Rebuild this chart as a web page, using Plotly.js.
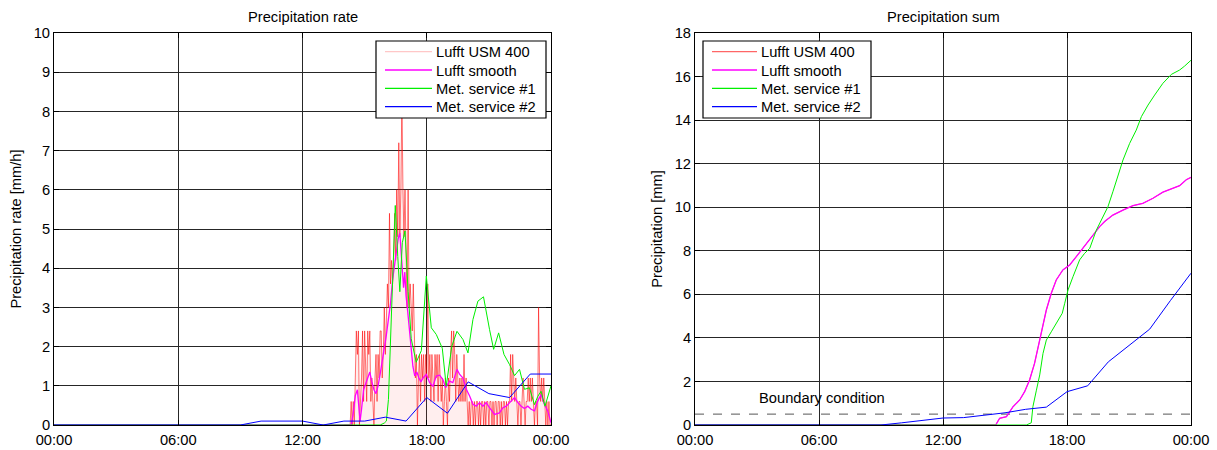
<!DOCTYPE html>
<html>
<head>
<meta charset="utf-8">
<script src="https://cdn.plot.ly/plotly-3.0.1.min.js"></script>
<style>html,body{margin:0;padding:0;background:#fff;}#chart{width:1217px;height:450px;}</style>
</head>
<body>
<div id="chart"></div>
<script>
// ---------- DATA (time in hours of day) ----------
const tickHours = [0, 6, 12, 18, 24];
const tickLabels = ['00:00', '06:00', '12:00', '18:00', '00:00'];
const seriesNames = ['Lufft USM 400', 'Lufft smooth', 'Met. service #1', 'Met. service #2'];

// Lufft USM 400 raw rate [mm/h], regularly sampled from luftStart every luftStep hours
const luftStart = 14.0;
const luftStep = 0.05;
const luftRate = [
  0, 0, 0, 0, 0, 0, 0, 0.6, 0, 0.6, 0, 1.2, 2.4, 1.8, 2.4, 0, 0.6, 1.2, 2.4, 0.6,
  2.4, 1.2, 0.6, 2.4, 1.8, 2.4, 0.6, 1.2, 0.6, 0, 1.2, 1.8, 0.6, 1.8, 1.2, 2.4, 2.4, 1.2, 1.8, 3.0,
  1.8, 3.0, 3.6, 3.0, 5.4, 3.6, 4.2, 3.6, 4.2, 5.4, 4.2, 6.0, 4.8, 7.2, 4.8, 6.0, 8.4, 6.0, 4.8, 6.0,
  4.2, 3.0, 6.0, 3.0, 3.6, 3.0, 2.4, 3.6, 1.8, 1.2, 1.8, 0, 1.2, 1.8, 0.6, 1.8, 1.2, 1.8, 0.6, 1.8,
  1.2, 3.6, 1.2, 1.8, 0.6, 1.8, 1.2, 0.6, 1.8, 1.2, 1.8, 0.6, 1.8, 1.2, 0.6, 1.2, 0, 0.6, 1.2, 0.6,
  0, 1.2, 0.6, 1.8, 2.4, 1.2, 2.4, 1.8, 0.6, 1.8, 1.2, 0.6, 1.2, 0.6, 1.2, 0.6, 1.8, 0.6, 1.2, 0.6,
  0, 0.6, 0, 0.6, 0.6, 0, 0.6, 0, 0.6, 0.6, 0, 0.6, 0, 0.6, 0.6, 0, 0.6, 0, 0.6, 0.6,
  0, 0.6, 0.6, 0, 0.6, 0, 0.6, 0.6, 0, 0.6, 0.6, 0, 0.6, 0, 0.6, 0.6, 0, 0.6, 0, 0.6,
  0.6, 1.8, 0.6, 1.8, 1.2, 0.6, 1.2, 0.6, 0, 0.6, 0.6, 0, 0.6, 1.2, 0.6, 0, 0.6, 0.6, 1.2, 0.6,
  1.2, 0.6, 1.2, 0.6, 0, 0.6, 0.6, 0, 3.0, 1.2, 0.6, 1.2, 0.6, 1.2, 0.6, 0, 0.6, 0, 0.6, 0,
  0
];

// Lufft smoothed rate [mm/h]
const smoothHours = [0, 14.35, 14.45, 14.55, 14.65, 14.72, 14.78, 14.85, 14.95, 15.05, 15.15,
  15.25, 15.35, 15.45, 15.55, 15.65, 15.75, 15.85, 15.95, 16.05, 16.15,
  16.25, 16.35, 16.45, 16.55, 16.62, 16.70, 16.76, 16.82, 16.88, 16.94,
  17.0, 17.08, 17.16, 17.25, 17.33, 17.42, 17.52, 17.62, 17.72, 17.82,
  17.98, 18.14, 18.3, 18.46, 18.62, 18.78, 18.91, 19.1, 19.26, 19.46,
  19.59, 19.75, 19.91, 20.07, 20.23, 20.39, 20.55, 20.71, 20.87, 21.03,
  21.27, 21.51, 21.68, 21.84, 22.08, 22.24, 22.4, 22.56, 22.72, 22.88,
  23.04, 23.2, 23.36, 23.52, 23.68, 23.84, 24.0];
const smoothRate = [0, 0, 0.3, 0.75, 0.9, 0.5, 0.1, 0.4, 0.9, 1.05, 1.2,
  1.35, 1.1, 0.9, 0.8, 1.0, 1.3, 1.6, 1.9, 2.3, 2.7,
  3.1, 3.7, 4.1, 4.4, 4.75, 4.9, 4.5, 4.0, 3.5, 3.9,
  3.3, 2.9, 2.4, 1.9, 1.5, 1.25, 1.35, 1.2, 1.1, 1.2,
  1.29, 1.08, 0.99, 1.25, 1.27, 1.16, 0.95, 1.12, 1.08, 1.42,
  1.29, 1.2, 0.91, 0.74, 0.53, 0.48, 0.57, 0.48, 0.57, 0.44,
  0.27, 0.31, 0.44, 0.48, 0.61, 0.7, 0.57, 0.48, 0.42, 0.48,
  0.4, 0.36, 0.61, 0.78, 0.53, 0.36, 0.06];

// Met. service #1 rate [mm/h]
const met1Hours = [0, 15.75, 15.95, 16.05, 16.15, 16.29, 16.48, 16.6, 16.7, 16.82,
  16.95, 17.1, 17.25, 17.49, 17.74, 17.98, 18.22, 18.46, 18.75, 18.94,
  19.21, 19.46, 19.75, 19.99, 20.23, 20.47, 20.74, 21.03, 21.23, 21.47,
  21.73, 22.0, 22.24, 22.48, 22.72, 22.96, 23.2, 23.36, 23.52, 23.71,
  23.93, 24.0];
const met1Rate = [0, 0, 0.05, 0.1, 0.65, 3.0, 5.6, 4.3, 3.4, 4.65,
  4.95, 3.4, 2.2, 1.6, 1.9, 3.8, 2.48, 2.31, 1.96, 0.99,
  2.01, 2.39, 2.18, 1.84, 2.69, 3.16, 3.27, 2.44, 1.93, 2.35,
  1.8, 1.54, 1.26, 1.42, 0.91, 0.95, 0.52, 0.73, 0.86, 0.48,
  0.91, 1.0];

// Met. service #2 hourly rate [mm/h] and sum [mm]
const met2Hours = [0, 1, 2, 3, 4, 5, 6, 7, 8, 9, 10, 11, 12, 13, 14, 15, 16, 17, 18, 19, 20, 21, 22, 23, 24];
const met2Rate = [0, 0, 0, 0, 0, 0, 0, 0, 0, 0, 0.1, 0.1, 0.1, 0, 0.1, 0.1, 0.2, 0.1, 0.7, 0.3, 1.1, 0.8, 0.7, 1.3, 1.3];
const met2Sum = [0, 0, 0, 0, 0, 0, 0, 0, 0, 0, 0.1, 0.2, 0.32, 0.34, 0.45, 0.56, 0.72, 0.82, 1.53, 1.8, 2.9, 3.67, 4.4, 5.71, 6.97];

// Lufft precipitation sum [mm]
const luftSumHours = [0, 14.55, 14.74, 15.07, 15.39, 15.71, 15.95, 16.19, 16.43, 16.68,
  16.84, 17.0, 17.24, 17.48, 17.8, 18.13, 18.45, 18.77, 19.18, 19.58,
  19.82, 20.22, 20.71, 21.19, 21.67, 22.16, 22.64, 23.05, 23.45, 23.77, 24.0];
const luftSum = [0, 0, 0.31, 0.38, 0.84, 1.15, 1.53, 2.07, 2.83, 3.9,
  4.67, 5.28, 6.05, 6.66, 7.12, 7.35, 7.73, 8.12, 8.58, 9.11,
  9.34, 9.64, 9.87, 10.07, 10.18, 10.41, 10.69, 10.84, 10.99, 11.26, 11.37];

// Met. service #1 sum [mm]
const met1SumHours = [0, 16.03, 16.27, 16.35, 16.52, 16.68, 16.84, 17.0, 17.24, 17.48,
  17.77, 17.89, 18.05, 18.29, 18.61, 18.85, 19.1, 19.42, 19.74, 19.98,
  20.22, 20.46, 20.71, 21.03, 21.35, 21.6, 21.92, 22.24, 22.64, 23.05,
  23.45, 23.69, 23.85, 24.0];
const met1Sum = [0, 0, 0.1, 0.84, 1.6, 2.3, 3.29, 3.9, 4.28, 4.67,
  5.13, 5.59, 6.2, 6.81, 7.58, 7.88, 8.11, 8.95, 9.56, 10.02,
  10.71, 11.4, 12.17, 12.93, 13.54, 14.16, 14.69, 15.15, 15.69, 16.1,
  16.3, 16.48, 16.6, 16.75];

// Boundary condition [mm]
const boundaryLabel = 'Boundary condition';
const boundaryHours = [0, 24];
const boundaryValue = [0.5, 0.5];

// ---------- BUILD ----------
const luftHours = luftRate.map((_, i) => +(luftStart + i * luftStep).toFixed(3));

const FONT = 'Liberation Sans, Arial, Helvetica, sans-serif';
const FS = 14.7;
const COL = {
  rawL: 'rgba(255,0,0,0.55)', rawLegL: 'rgba(255,0,0,0.22)', rawR: 'rgba(255,0,0,0.6)',
  smooth: '#ff00ff', met1: '#00f000', met2: '#0000ff'
};

const traces = [
  {x: luftHours, y: luftRate, name: seriesNames[0], type: 'scatter', mode: 'lines', showlegend: false,
   fill: 'tozeroy', fillcolor: 'rgba(255,90,90,0.1)',
   line: {color: COL.rawL, width: 1}, xaxis: 'x', yaxis: 'y'},
  {x: smoothHours, y: smoothRate, name: seriesNames[1], type: 'scatter', mode: 'lines', showlegend: false,
   line: {color: COL.smooth, width: 1.3}, xaxis: 'x', yaxis: 'y'},
  {x: met1Hours, y: met1Rate, name: seriesNames[2], type: 'scatter', mode: 'lines', showlegend: false,
   line: {color: COL.met1, width: 1}, xaxis: 'x', yaxis: 'y'},
  {x: met2Hours, y: met2Rate, name: seriesNames[3], type: 'scatter', mode: 'lines', showlegend: false,
   line: {color: COL.met2, width: 1}, xaxis: 'x', yaxis: 'y'},

  {x: boundaryHours, y: boundaryValue, name: boundaryLabel, type: 'scatter', mode: 'lines', showlegend: false,
   line: {color: '#555555', width: 1, dash: 'dash'}, xaxis: 'x2', yaxis: 'y2'},
  {x: luftSumHours, y: luftSum, name: seriesNames[0], type: 'scatter', mode: 'lines', showlegend: false,
   line: {color: COL.rawR, width: 1}, xaxis: 'x2', yaxis: 'y2'},
  {x: luftSumHours, y: luftSum, name: seriesNames[1], type: 'scatter', mode: 'lines', showlegend: false,
   line: {color: COL.smooth, width: 1.3}, xaxis: 'x2', yaxis: 'y2'},
  {x: met1SumHours, y: met1Sum, name: seriesNames[2], type: 'scatter', mode: 'lines', showlegend: false,
   line: {color: COL.met1, width: 1}, xaxis: 'x2', yaxis: 'y2'},
  {x: met2Hours, y: met2Sum, name: seriesNames[3], type: 'scatter', mode: 'lines', showlegend: false,
   line: {color: COL.met2, width: 1}, xaxis: 'x2', yaxis: 'y2'}
];

const axisCommon = {
  showline: true, mirror: 'ticks', linecolor: '#000', linewidth: 1,
  ticks: 'inside', ticklen: 5, tickcolor: '#000', tickwidth: 1,
  showgrid: true, gridcolor: '#262626', gridwidth: 1, zeroline: false,
  tickfont: {family: FONT, size: FS, color: '#000'}, fixedrange: true
};

const L = 54, R = 1191, T = 33, B = 425;
const W = R - L, H = B - T;
const px = v => (v - L) / W;
const py = v => (B - v) / H;

// legend drawn as shapes + annotations (pixel layout of the reference)
const shapes = [];
const annotations = [
  {text: 'Precipitation rate', xref: 'paper', yref: 'paper', x: px(302.5), y: py(17), xanchor: 'center', yanchor: 'middle', showarrow: false, font: {family: FONT, size: FS}},
  {text: 'Precipitation sum', xref: 'paper', yref: 'paper', x: px(943), y: py(17), xanchor: 'center', yanchor: 'middle', showarrow: false, font: {family: FONT, size: FS}},
  {text: boundaryLabel, xref: 'x2', yref: 'y2', x: 3, y: 1.25, xanchor: 'left', yanchor: 'middle', showarrow: false, font: {family: FONT, size: FS}}
];
function addLegend(box, lineX0, lineX1, textX, colors) {
  shapes.push({type: 'rect', xref: 'paper', yref: 'paper', x0: px(box[0]), x1: px(box[1]), y0: py(box[3]), y1: py(box[2]),
    line: {color: '#000', width: 1.2}, fillcolor: '#fff', layer: 'above'});
  const rows = [51.7, 70, 88.3, 106.7];
  rows.forEach((r, i) => {
    shapes.push({type: 'line', xref: 'paper', yref: 'paper', x0: px(lineX0), x1: px(lineX1), y0: py(r), y1: py(r),
      line: {color: colors[i], width: 1.3}, layer: 'above'});
    annotations.push({text: seriesNames[i], xref: 'paper', yref: 'paper', x: px(textX), y: py(r + 0.5),
      xanchor: 'left', yanchor: 'middle', showarrow: false, font: {family: FONT, size: FS, color: '#000'}});
  });
}
addLegend([376, 546, 41, 118], 385, 432, 434, [COL.rawLegL, COL.smooth, COL.met1, COL.met2]);
addLegend([703, 871, 41, 118], 712, 757, 759, [COL.rawR, COL.smooth, COL.met1, COL.met2]);

const layout = {
  width: 1217, height: 450,
  margin: {l: L, r: 1217 - R, t: T, b: 450 - B, pad: 0},
  paper_bgcolor: '#fff', plot_bgcolor: '#fff',
  font: {family: FONT, size: FS, color: '#000'},
  showlegend: false,
  xaxis: Object.assign({}, axisCommon, {domain: [0, px(551)], range: [0, 24], tickvals: tickHours, ticktext: tickLabels, anchor: 'y', ticklabelstandoff: 1}),
  yaxis: Object.assign({}, axisCommon, {range: [0, 10], dtick: 1, anchor: 'x',
    title: {text: 'Precipitation rate [mm/h]', font: {family: FONT, size: FS}, standoff: 8}}),
  xaxis2: Object.assign({}, axisCommon, {domain: [px(695), 1], range: [0, 24], tickvals: tickHours, ticktext: tickLabels, anchor: 'y2', ticklabelstandoff: 1}),
  yaxis2: Object.assign({}, axisCommon, {range: [0, 18], dtick: 2, anchor: 'x2',
    title: {text: 'Precipitation [mm]', font: {family: FONT, size: FS}, standoff: 8}}),
  shapes: shapes,
  annotations: annotations
};

Plotly.newPlot('chart', traces, layout, {displayModeBar: false, staticPlot: true});
</script>
</body>
</html>
